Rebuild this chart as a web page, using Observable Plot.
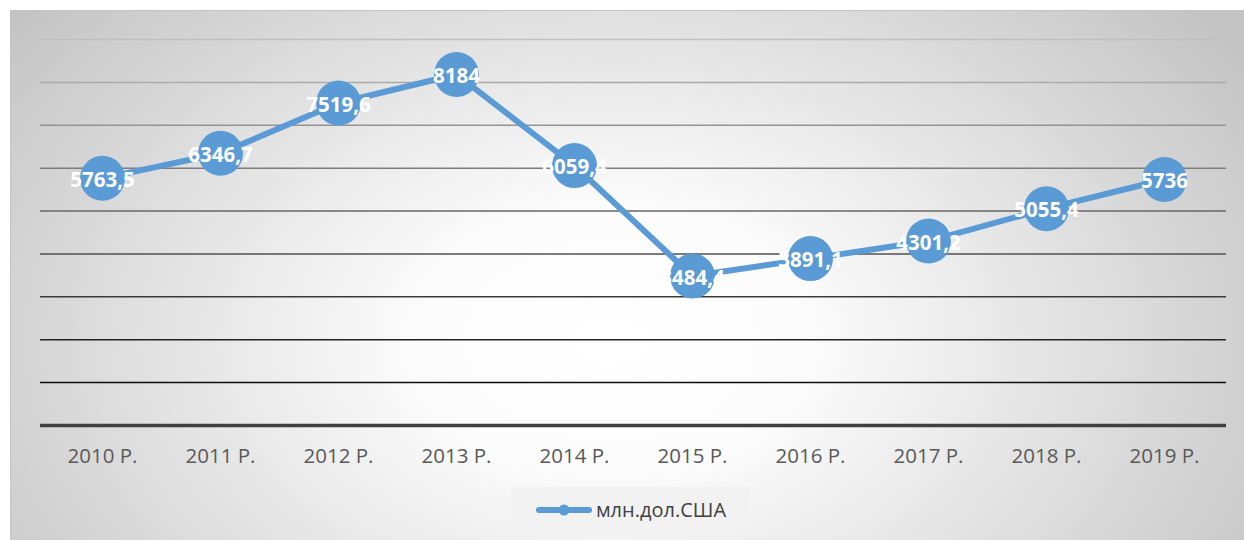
<!DOCTYPE html>
<html><head><meta charset="utf-8">
<script src="https://cdn.jsdelivr.net/npm/d3@7"></script>
<script src="https://cdn.jsdelivr.net/npm/@observablehq/plot@0.6"></script>
<style>
body{margin:0;background:#fff;}
#wrap{position:relative;width:1244px;height:540px;overflow:hidden;font-family:"Open Sans",sans-serif;}
#bg{position:absolute;left:10px;top:10px;width:1234px;height:530px;box-sizing:border-box;
  border-top:1px solid #c4c4c4;border-left:1px solid #c4c4c4;
  background:radial-gradient(ellipse 760px 520px at 600px 330px,#ffffff 0%,#fcfcfc 25%,#e6e6e6 55%,#c4c4c4 100%);}
#chart{position:absolute;left:0;top:0;}
#legend{position:absolute;left:511px;top:487px;width:239px;height:45px;background:#f2f2f2;
  display:flex;align-items:center;justify-content:center;gap:3px;font-size:20px;color:#404040;}
</style></head>
<body>
<div id="wrap"><div id="bg"></div><div id="chart"></div><div id="legend"></div></div>
<script>
const years = ["2010 Р.","2011 Р.","2012 Р.","2013 Р.","2014 Р.","2015 Р.","2016 Р.","2017 Р.","2018 Р.","2019 Р."];
const values = [5763.5, 6346.7, 7519.6, 8184, 6059.4, 3484.4, 3891.1, 4301.2, 5055.4, 5736];
const gridValues = [1000, 2000, 3000, 4000, 5000, 6000, 7000, 8000, 9000];
const seriesName = "млн.дол.США";

const blue = "#5b9bd5";
const data = years.map((y, i) => ({year: y, value: values[i]}));
const fmt = v => String(v).replace(".", ",");
const gridColor = d3.interpolateRgb("#0d0d0d", "#c0c0c0");

const plot = Plot.plot({
  width: 1244, height: 480,
  marginLeft: 40, marginRight: 18, marginTop: 39, marginBottom: 55,
  style: {background: "transparent", fontFamily: "'Open Sans', sans-serif", overflow: "visible"},
  x: {type: "point", domain: years, padding: 0.5, label: null},
  y: {domain: [0, 9000], axis: null},
  color: {type: "identity"},
  marks: [
    Plot.ruleY(gridValues, {stroke: d => gridColor((d - 1000) / 8000), strokeWidth: 1.5}),
    Plot.ruleY([0], {stroke: "#404040", strokeWidth: 3.5}),
    Plot.axisX({tickSize: 0, tickPadding: 23, fontSize: 20.5, color: "#595959", label: null}),
    Plot.line(data, {x: "year", y: "value", stroke: blue, strokeWidth: 6}),
    Plot.dot(data, {x: "year", y: "value", r: 22.5, fill: blue}),
    Plot.text(data, {x: "year", y: "value", text: d => fmt(d.value), fill: "white",
      fontSize: 20.5, fontWeight: "bold", dy: 2})
  ]
});
document.getElementById("chart").appendChild(plot);

const legend = document.getElementById("legend");
legend.innerHTML = `<svg width="58" height="14"><line x1="4" y1="7" x2="54" y2="7" stroke="${blue}" stroke-width="6" stroke-linecap="round"/><circle cx="29" cy="7" r="5.5" fill="${blue}"/></svg><span>${seriesName}</span>`;
</script>
</body></html>
